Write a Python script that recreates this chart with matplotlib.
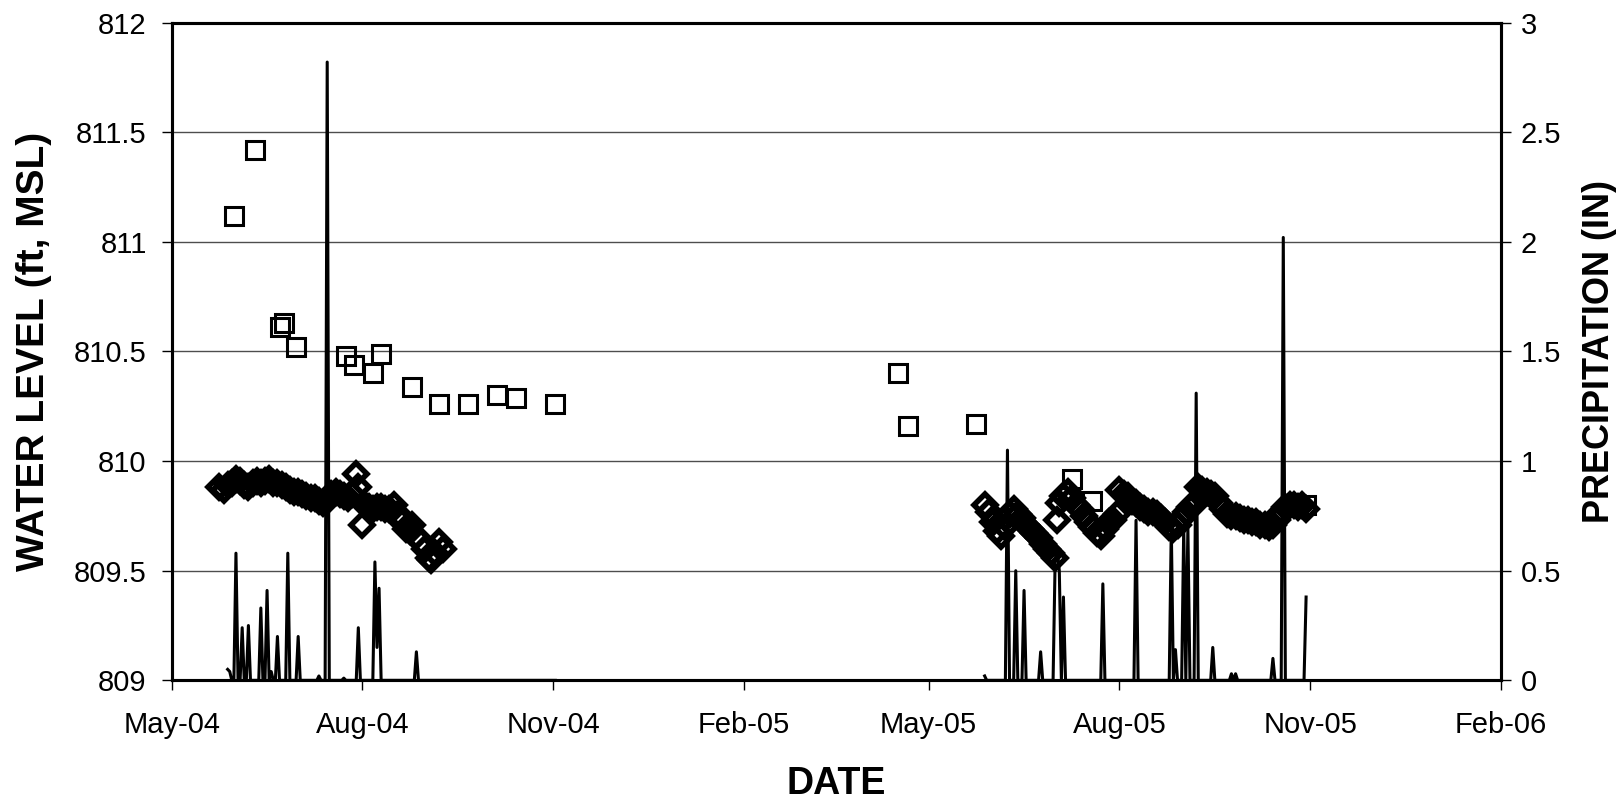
import matplotlib
matplotlib.use("Agg")
import matplotlib.pyplot as plt
import matplotlib.dates as mdates
import pandas as pd

# water level, open squares (ft MSL)
sq_dates = ["2004-05-31", "2004-06-10", "2004-06-22", "2004-06-24", "2004-06-30",
            "2004-07-24", "2004-07-28", "2004-08-06", "2004-08-10", "2004-08-25",
            "2004-09-07", "2004-09-21", "2004-10-05", "2004-10-14", "2004-11-02",
            "2005-04-16", "2005-04-21", "2005-05-24", "2005-07-09", "2005-07-19",
            "2005-10-30"]
sq_level = [811.12, 811.42, 810.61, 810.63, 810.52,
            810.48, 810.44, 810.40, 810.49, 810.34,
            810.26, 810.26, 810.30, 810.29, 810.26,
            810.40, 810.16, 810.17, 809.92, 809.82,
            809.80]

# water level, diamonds (ft MSL)
dm_dates_2004 = ["2004-05-24", "2004-05-26", "2004-05-28", "2004-05-30", "2004-06-01",
                 "2004-06-03", "2004-06-05", "2004-06-07", "2004-06-09", "2004-06-11",
                 "2004-06-13", "2004-06-15", "2004-06-17", "2004-06-19", "2004-06-21",
                 "2004-06-23", "2004-06-25", "2004-06-27", "2004-06-29", "2004-07-01",
                 "2004-07-03", "2004-07-05", "2004-07-07", "2004-07-09", "2004-07-11",
                 "2004-07-13", "2004-07-15", "2004-07-17", "2004-07-19", "2004-07-21",
                 "2004-07-23", "2004-07-25", "2004-07-27", "2004-07-29", "2004-07-30",
                 "2004-08-01", "2004-08-02", "2004-08-04", "2004-08-06", "2004-08-08",
                 "2004-08-10", "2004-08-12", "2004-08-14", "2004-08-16", "2004-08-18",
                 "2004-08-20", "2004-08-22", "2004-08-24", "2004-08-25", "2004-08-27",
                 "2004-08-29", "2004-08-31", "2004-09-02", "2004-09-03", "2004-09-05",
                 "2004-09-07", "2004-09-09"]
dm_level_2004 = [809.88, 809.87, 809.89, 809.90, 809.92,
                 809.91, 809.89, 809.88, 809.90, 809.91,
                 809.90, 809.91, 809.92, 809.90, 809.90,
                 809.89, 809.88, 809.87, 809.86, 809.86,
                 809.85, 809.84, 809.83, 809.83, 809.82,
                 809.81, 809.82, 809.85, 809.86, 809.85,
                 809.84, 809.83, 809.85, 809.94, 809.88,
                 809.71, 809.80, 809.79, 809.78, 809.79,
                 809.79, 809.78, 809.78, 809.80, 809.76,
                 809.72, 809.69, 809.68, 809.71, 809.66,
                 809.63, 809.60, 809.56, 809.55, 809.58,
                 809.63, 809.60]
dm_dates_2005 = ["2005-05-28", "2005-05-30", "2005-06-01", "2005-06-03", "2005-06-05",
                 "2005-06-07", "2005-06-09", "2005-06-11", "2005-06-13", "2005-06-15",
                 "2005-06-17", "2005-06-19", "2005-06-21", "2005-06-23", "2005-06-25",
                 "2005-06-27", "2005-06-29", "2005-07-01", "2005-07-02", "2005-07-03",
                 "2005-07-05", "2005-07-07", "2005-07-09", "2005-07-11", "2005-07-13",
                 "2005-07-15", "2005-07-17", "2005-07-19", "2005-07-21", "2005-07-23",
                 "2005-07-25", "2005-07-27", "2005-07-29", "2005-07-31", "2005-08-01",
                 "2005-08-03", "2005-08-05", "2005-08-07", "2005-08-09", "2005-08-11",
                 "2005-08-13", "2005-08-15", "2005-08-17", "2005-08-19", "2005-08-21",
                 "2005-08-23", "2005-08-25", "2005-08-27", "2005-08-29", "2005-08-31",
                 "2005-09-02", "2005-09-04", "2005-09-06", "2005-09-08", "2005-09-10",
                 "2005-09-12", "2005-09-14", "2005-09-16", "2005-09-18", "2005-09-20",
                 "2005-09-22", "2005-09-24", "2005-09-26", "2005-09-28", "2005-09-30",
                 "2005-10-02", "2005-10-04", "2005-10-06", "2005-10-08", "2005-10-10",
                 "2005-10-12", "2005-10-14", "2005-10-16", "2005-10-18", "2005-10-20",
                 "2005-10-22", "2005-10-24", "2005-10-26", "2005-10-28", "2005-10-30"]
dm_level_2005 = [809.80, 809.77, 809.72, 809.68, 809.66,
                 809.70, 809.76, 809.78, 809.76, 809.74,
                 809.71, 809.69, 809.67, 809.65, 809.62,
                 809.60, 809.58, 809.56, 809.73, 809.81,
                 809.84, 809.86, 809.83, 809.80, 809.78,
                 809.75, 809.72, 809.70, 809.67, 809.66,
                 809.69, 809.72, 809.73, 809.76, 809.87,
                 809.85, 809.84, 809.82, 809.81, 809.79,
                 809.78, 809.77, 809.77, 809.76, 809.74,
                 809.72, 809.70, 809.69, 809.71, 809.74,
                 809.77, 809.79, 809.80, 809.88, 809.87,
                 809.86, 809.85, 809.84, 809.81, 809.78,
                 809.76, 809.75, 809.75, 809.74, 809.73,
                 809.73, 809.72, 809.72, 809.71, 809.71,
                 809.70, 809.71, 809.73, 809.77, 809.79,
                 809.80, 809.80, 809.79, 809.80, 809.78]

# daily precipitation (in); days not listed inside a record period are 0
rain_periods = [("2004-05-28", "2004-11-02"), ("2005-05-28", "2005-10-30")]
rain_dates = ["2004-05-28", "2004-05-29", "2004-06-01", "2004-06-04", "2004-06-07",
              "2004-06-13", "2004-06-16", "2004-06-18", "2004-06-21", "2004-06-26",
              "2004-07-01", "2004-07-11", "2004-07-15", "2004-07-23", "2004-07-30",
              "2004-08-07", "2004-08-08", "2004-08-09", "2004-08-27",
              "2005-05-28", "2005-06-08", "2005-06-12", "2005-06-16", "2005-06-24",
              "2005-07-01", "2005-07-02", "2005-07-03", "2005-07-05", "2005-07-24",
              "2005-08-09", "2005-08-26", "2005-08-28", "2005-09-01", "2005-09-03",
              "2005-09-07", "2005-09-15", "2005-09-24", "2005-09-26", "2005-10-14",
              "2005-10-19", "2005-10-30"]
rain_in = [0.05, 0.04, 0.58, 0.24, 0.25,
           0.33, 0.41, 0.04, 0.20, 0.58,
           0.20, 0.02, 2.82, 0.01, 0.24,
           0.54, 0.15, 0.42, 0.13,
           0.02, 1.05, 0.50, 0.41, 0.13,
           0.55, 0.60, 0.50, 0.38, 0.44,
           0.73, 0.70, 0.14, 0.70, 0.70,
           1.31, 0.15, 0.03, 0.03, 0.10,
           2.02, 0.38]

x_ticks = ["2004-05-01", "2004-08-01", "2004-11-01", "2005-02-01", "2005-05-01",
           "2005-08-01", "2005-11-01", "2006-02-01"]
left_ticks = [809, 809.5, 810, 810.5, 811, 811.5, 812]
right_ticks = [0, 0.5, 1, 1.5, 2, 2.5, 3]


def main():
    plt.rcParams["font.family"] = ["Liberation Sans", "DejaVu Sans"]

    fig = plt.figure(figsize=(16.21, 8.08), dpi=100)
    ax = fig.add_axes([0.1059, 0.158, 0.8201, 0.814])
    ax2 = ax.twinx()

    ax.yaxis.grid(True, color="0.3", linewidth=1.0)
    ax.set_axisbelow(True)

    ax.plot(pd.to_datetime(sq_dates), sq_level, linestyle="none", marker="s",
            markersize=13, markerfacecolor="none", markeredgecolor="black", markeredgewidth=2.2)
    for d, v in ((dm_dates_2004, dm_level_2004), (dm_dates_2005, dm_level_2005)):
        ax.plot(pd.to_datetime(d), v, linestyle="none", marker="D",
                markersize=11.5, markerfacecolor="none", markeredgecolor="black", markeredgewidth=4.0)

    rain = pd.Series(rain_in, index=pd.to_datetime(rain_dates))
    for start, end in rain_periods:
        days = pd.date_range(start, end, freq="D")
        s = rain.reindex(days).fillna(0.0)
        ax2.plot(s.index, s.values, color="black", linewidth=2.2)

    ax.set_xlim(pd.Timestamp(x_ticks[0]), pd.Timestamp(x_ticks[-1]))
    ax.set_ylim(809, 812)
    ax2.set_ylim(0, 3)
    ax.set_yticks(left_ticks)
    ax.set_yticklabels([f"{t:g}" for t in left_ticks])
    ax2.set_yticks(right_ticks)
    ax2.set_yticklabels([f"{t:g}" for t in right_ticks])
    ax.set_xticks(pd.to_datetime(x_ticks))
    ax.xaxis.set_major_formatter(mdates.DateFormatter("%b-%y"))

    for a in (ax, ax2):
        for sp in a.spines.values():
            sp.set_linewidth(2.2)
        a.tick_params(direction="out", length=7, width=1.0, labelsize=21)
    ax.tick_params(axis="x", pad=15)
    ax.tick_params(axis="y", pad=11)
    ax2.tick_params(axis="y", pad=7)

    fig.text(0.5158, 0.0297, "DATE", fontsize=27, fontweight="bold", ha="center", va="center")
    fig.text(0.0210, 0.565, "WATER LEVEL (ft, MSL)", fontsize=28, fontweight="bold",
             rotation=90, ha="center", va="center")
    fig.text(0.987, 0.565, "PRECIPITATION (IN)", fontsize=26, fontweight="bold",
             rotation=90, ha="center", va="center")

    fig.savefig("out.png", dpi=100)
    plt.close(fig)


if __name__ == '__main__':
    main()
